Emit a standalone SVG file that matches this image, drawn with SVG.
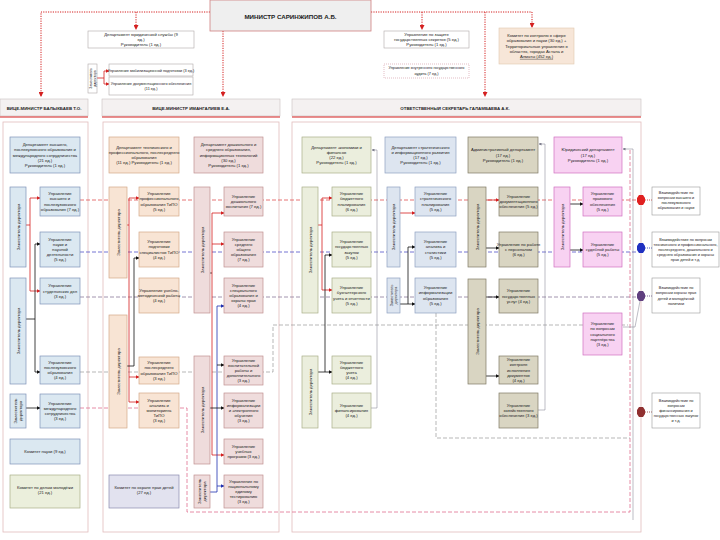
<svg xmlns="http://www.w3.org/2000/svg" width="720" height="540" viewBox="0 0 720 540">
<style>
text{font-family:"Liberation Sans",Arial,sans-serif;font-size:4.2px;text-anchor:middle;fill:#222}
.hd{font-size:4.4px;font-weight:bold}
.mn{font-size:6.2px;font-weight:bold}
.sm{font-size:3.8px}
.hdr{fill:#f4f1f1;stroke:#c8c0c0;stroke-width:0.6}
.frame{fill:none;stroke:#e2bcbc;stroke-width:0.8}
.wht{fill:#fff;stroke:#b0a8a8;stroke-width:0.6}
.b1{fill:#dbe8f1;stroke:#7f93b8;stroke-width:0.7}
.pe{fill:#f8e4d4;stroke:#d4a888;stroke-width:0.7}
.ro{fill:#efdcdc;stroke:#c09090;stroke-width:0.7}
.ol{fill:#ebeedd;stroke:#a8ae88;stroke-width:0.7}
.bl{fill:#dde5f0;stroke:#8ea0c0;stroke-width:0.7}
.kh{fill:#d9d5c2;stroke:#7f7a64;stroke-width:0.7}
.pk{fill:#f8d2f2;stroke:#d070c0;stroke-width:0.7}
.gr{fill:#ebefdc;stroke:#a8b088;stroke-width:0.7}
.lv{fill:#e2e2ef;stroke:#8a8ab0;stroke-width:0.7}
.note{fill:#fff;stroke:#999;stroke-width:0.6}
.rd{fill:none;stroke:#d42020;stroke-width:1;stroke-dasharray:1.2 1.2}
.sr{fill:none;stroke:#d42020;stroke-width:0.8}
.sk{fill:none;stroke:#111;stroke-width:0.8}
.sb{fill:none;stroke:#2030b0;stroke-width:0.8}
.sg{fill:none;stroke:#7a7a8a;stroke-width:0.5}
.dr{fill:none;stroke:#e05050;stroke-width:0.8;stroke-dasharray:4 2}
.db{fill:none;stroke:#5050c8;stroke-width:0.8;stroke-dasharray:4 2}
.dp{fill:none;stroke:#8a7a9a;stroke-width:0.8;stroke-dasharray:4 2}
.dg{fill:none;stroke:#9a9a9a;stroke-width:0.7;stroke-dasharray:4 2}
.dk{fill:none;stroke:#e07090;stroke-width:0.8;stroke-dasharray:4 2}
.dt{fill:none;stroke-width:0.8;stroke-dasharray:1 1}
</style>
<defs>
<marker id="ar" markerWidth="5" markerHeight="5" refX="4" refY="2.5" orient="auto" markerUnits="userSpaceOnUse"><path d="M0,0 L5,2.5 L0,5 z" fill="#d42020"/></marker>
<marker id="ak" markerWidth="4" markerHeight="4" refX="3.5" refY="2" orient="auto" markerUnits="userSpaceOnUse"><path d="M0,0 L4,2 L0,4 z" fill="#111"/></marker>
<marker id="arr" markerWidth="4" markerHeight="4" refX="3.5" refY="2" orient="auto" markerUnits="userSpaceOnUse"><path d="M0,0 L4,2 L0,4 z" fill="#d42020"/></marker>
<marker id="ab" markerWidth="4" markerHeight="4" refX="3.5" refY="2" orient="auto" markerUnits="userSpaceOnUse"><path d="M0,0 L4,2 L0,4 z" fill="#2030b0"/></marker>
<marker id="ag" markerWidth="3" markerHeight="3" refX="2.5" refY="1.5" orient="auto" markerUnits="userSpaceOnUse"><path d="M0,0 L3,1.5 L0,3 z" fill="#7a7a8a"/></marker>
</defs>

<!-- column frames and headers -->
<g id="col1">
<rect class="frame" x="3" y="122" width="85" height="410"/>
<rect class="hdr" x="0" y="99" width="88" height="17"/>
<line x1="0" y1="117" x2="88" y2="117" stroke="#d42020" stroke-width="1"/>
<text class="hd" x="44" y="109.5">ВИЦЕ-МИНИСТР БАЛЫКБАЕВ Т.О.</text>
</g>
<g id="col2">
<rect class="frame" x="103" y="122" width="176" height="410"/>
<rect class="hdr" x="102" y="99" width="178" height="17"/>
<line x1="102" y1="117" x2="280" y2="117" stroke="#d42020" stroke-width="1"/>
<text class="hd" x="191" y="109.5">ВИЦЕ-МИНИСТР ИМАНГАЛИЕВ Е.А.</text>
</g>
<g id="col3">
<rect class="frame" x="292" y="122" width="349" height="410"/>
<rect class="hdr" x="292" y="99" width="349" height="17"/>
<line x1="292" y1="117" x2="641" y2="117" stroke="#d42020" stroke-width="1"/>
<text class="hd" x="455" y="109.5">ОТВЕТСТВЕННЫЙ СЕКРЕТАРЬ ГАЛАМБАЕВА А.К.</text>
</g>

<!-- connectors -->
<g id="connectors">
<path class="rd" d="M210,12 H41 V96" marker-end="url(#ar)"/>
<path class="rd" d="M136,12 V29" marker-end="url(#ar)"/>
<path class="rd" d="M223,31 V96" marker-end="url(#ar)"/>
<path class="rd" d="M371,12 H532 V27" marker-end="url(#ar)"/>
<path class="rd" d="M422,12 V29" marker-end="url(#ar)"/>
<path class="rd" d="M485,12 V96" marker-end="url(#ar)"/>
<path class="sr" d="M97,78 H104 M104,71 V84"/>
<path class="sr" d="M104,71 H109" marker-end="url(#arr)"/>
<path class="sr" d="M104,84 H109" marker-end="url(#arr)"/>

<path class="dr" d="M80,200 H637"/>
<path class="db" d="M80,252 H637"/>
<path class="dp" d="M80,297 H637"/>
<path class="dg" d="M80,372 H273 V325 H628"/>
<path class="dk" d="M80,408 H139 M180,408 H187 V512 H630 V150"/>
<path class="dg" d="M436,313 V438 H630"/>

<path class="sr" d="M26,225 H30 M30,198 V291"/>
<path class="sr" d="M30,198 H40" marker-end="url(#arr)"/>
<path class="sr" d="M30,291 H40" marker-end="url(#arr)"/>
<path class="sk" d="M26,319 H35 M35,244 V372"/>
<path class="sk" d="M35,244 H40" marker-end="url(#ak)"/>
<path class="sk" d="M35,372 H40" marker-end="url(#ak)"/>
<path class="sk" d="M26,408 H40" marker-end="url(#ak)"/>

<path class="sr" d="M127,225 H129 M129,198 V402"/>
<path class="sr" d="M129,198 H139" marker-end="url(#arr)"/>
<path class="sr" d="M129,377 H139" marker-end="url(#arr)"/>
<path class="sr" d="M129,402 H139" marker-end="url(#arr)"/>
<path class="sk" d="M127,366 H134 V258 H139" marker-end="url(#ak)"/>

<path class="sk" d="M210,273 H212"/>
<path class="sr" d="M212,213 V455"/>
<path class="sr" d="M212,213 H224" marker-end="url(#arr)"/>
<path class="sr" d="M212,244 H224" marker-end="url(#arr)"/>
<path class="sr" d="M212,455 H224" marker-end="url(#arr)"/>
<path class="sb" d="M210,492 H217 V306"/>
<path class="sb" d="M217,306 H224" marker-end="url(#ab)"/>
<path class="sk" d="M217,365 H224" marker-end="url(#ak)"/>
<path class="sb" d="M217,486 H224" marker-end="url(#ab)"/>
<path class="sk" d="M210,408 H224" marker-end="url(#ak)"/>

<path class="sr" d="M318,225 H322 M322,198 V290"/>
<path class="sr" d="M322,198 H332" marker-end="url(#arr)"/>
<path class="sr" d="M322,290 H332" marker-end="url(#arr)"/>
<path class="sk" d="M318,372 H332" marker-end="url(#ak)"/>
<path class="sk" d="M325,372 V255 H332" marker-end="url(#ak)"/>
<path class="sg" d="M371,408 H377 V150 H372" marker-end="url(#ag)"/>

<path class="sr" d="M400,213 H415" marker-end="url(#arr)"/>
<path class="sk" d="M400,304 H408 M408,247 V304"/>
<path class="sk" d="M408,247 H415" marker-end="url(#ak)"/>
<path class="sk" d="M408,304 H415" marker-end="url(#ak)"/>

<path class="sr" d="M486,200 H499" marker-end="url(#arr)"/>
<path class="sk" d="M486,248 H499" marker-end="url(#ak)"/>
<path class="sk" d="M486,297 H499" marker-end="url(#ak)"/>
<path class="sk" d="M486,376 H499" marker-end="url(#ak)"/>
<path class="sg" d="M538,410 H545 V144 H539" marker-end="url(#ag)"/>

<path class="sk" d="M570,204 H583" marker-end="url(#ak)"/>
<path class="sk" d="M570,250 H583" marker-end="url(#ak)"/>
<path class="sg" d="M633,520 V149 H623" marker-end="url(#ag)"/>
<path class="sg" d="M623,327 H635 L640,301"/>

<path class="dt" stroke="#d42020" d="M645,200 H652"/>
<path class="dt" stroke="#2030b0" d="M645,248 H652"/>
<path class="dt" stroke="#604080" d="M645,296 H652"/>
<path class="dt" stroke="#903030" d="M645,412 H652"/>
</g>

<!-- octagons -->
<g id="markers-oct">
<polygon points="639,195 643,195 645,198 645,202 643,205 639,205 637,202 637,198" fill="#e02020"/>
<polygon points="639,243 643,243 645,246 645,250 643,253 639,253 637,250 637,246" fill="#2030c0"/>
<polygon points="639,291 643,291 645,294 645,298 643,301 639,301 637,298 637,294" fill="#604080"/>
<polygon points="639,407 643,407 645,410 645,414 643,417 639,417 637,414 637,410" fill="#903030"/>
</g>

<!-- top -->
<g id="minister">
<rect x="210" y="0" width="161" height="31" fill="#efefef" stroke="#d08080" stroke-width="0.8"/>
<text class="mn" x="290.5" y="19">МИНИСТР САРИНЖИПОВ А.Б.</text>
</g>
<g id="dep-legal-top">
<rect class="wht" x="88" y="31" width="106" height="17"/>
<text x="141" y="35.8">Департамент юридической службы (9</text>
<text x="141" y="41">ед.)</text>
<text x="141" y="46.2">Руководитель (1 ед.)</text>
</g>
<g id="deputy-top">
<rect class="wht" x="88" y="64" width="9" height="29"/>
<text transform="translate(92.5,78.5) rotate(-90)" x="0" y="-0.8" style="font-size:3.4px">Заместитель</text>
<text transform="translate(92.5,78.5) rotate(-90)" x="0" y="3" style="font-size:3.4px">директора</text>
</g>
<g id="top-a">
<rect class="wht" x="109" y="64" width="84" height="12"/>
<text class="sm" x="151" y="71.5">Управление мобилизационной подготовки (3 ед.)</text>
</g>
<g id="top-b">
<rect class="wht" x="109" y="77" width="84" height="18"/>
<text class="sm" x="151" y="84.5">Управление документационного обеспечения</text>
<text class="sm" x="151" y="89.7">(11 ед.)</text>
</g>
<g id="top-secret">
<rect class="wht" x="384" y="31" width="85" height="17"/>
<text x="426.5" y="35.8">Управление по защите</text>
<text x="426.5" y="41">государственных секретов (5 ед.)</text>
<text x="426.5" y="46.2">Руководитель (1 ед.)</text>
</g>
<g id="top-audit">
<rect x="384" y="64" width="85" height="14" fill="#fff" stroke="#d090a0" stroke-width="0.6" stroke-dasharray="1 1"/>
<text class="sm" x="426.5" y="69.3">Управление внутреннего государственного</text>
<text class="sm" x="426.5" y="74.5">аудита (7 ед.)</text>
</g>
<g id="top-committee">
<rect x="499" y="28" width="75" height="36" fill="#f7e6d8" stroke="#e0c8b0" stroke-width="0.6"/>
<text x="536.5" y="37.1">Комитет по контролю в сфере</text>
<text x="536.5" y="42.3">образования и науки (30 ед.) +</text>
<text x="536.5" y="47.5">Территориальные управления в</text>
<text x="536.5" y="52.7">областях, городах Астана и</text>
<text x="536.5" y="57.9" text-decoration="underline">Алматы (452 ед.)</text>
</g>

<!-- column 1 -->
<g id="c1-dept">
<rect class="b1" x="10" y="137" width="70" height="36"/>
<text x="45" y="146.1">Департамент высшего,</text>
<text x="45" y="151.3">послевузовского образования и</text>
<text x="45" y="156.5">международного сотрудничества</text>
<text x="45" y="161.7">(21 ед.)</text>
<text x="45" y="166.9">Руководитель (1 ед.)</text>
</g>
<g id="c1-v1"><rect class="b1" x="10" y="187" width="16" height="80"/><text transform="translate(18,227) rotate(-90)" y="1.5">Заместитель директора</text></g>
<g id="c1-b1"><rect class="b1" x="40" y="187" width="40" height="29"/>
<text x="60" y="195.2">Управление</text><text x="60" y="200.4">высшего и</text><text x="60" y="205.6">послевузовского</text><text x="60" y="210.8">образования (7 ед.)</text></g>
<g id="c1-b2"><rect class="b1" x="40" y="232" width="40" height="35"/>
<text x="60" y="240.6">Управление</text><text x="60" y="245.8">науки и</text><text x="60" y="251">научной</text><text x="60" y="256.2">деятельности</text><text x="60" y="261.4">(5 ед.)</text></g>
<g id="c1-b3"><rect class="b1" x="40" y="278" width="40" height="26"/>
<text x="60" y="287.3">Управление</text><text x="60" y="292.5">студенческих дел</text><text x="60" y="297.7">(3 ед.)</text></g>
<g id="c1-v2"><rect class="b1" x="10" y="278" width="16" height="106"/><text transform="translate(18,331) rotate(-90)" y="1.5">Заместитель директора</text></g>
<g id="c1-b4"><rect class="b1" x="40" y="356" width="40" height="28"/>
<text x="60" y="363.7">Управление</text><text x="60" y="368.9">послевузовского</text><text x="60" y="374.1">образования</text><text x="60" y="379.3">(4 ед.)</text></g>
<g id="c1-v3"><rect class="b1" x="10" y="394" width="16" height="34"/>
<text transform="translate(18,411) rotate(-90)" y="-0.8">Заместитель</text><text transform="translate(18,411) rotate(-90)" y="3.6">директора</text></g>
<g id="c1-b5"><rect class="b1" x="40" y="394" width="40" height="34"/>
<text x="60" y="404.7">Управление</text><text x="60" y="409.9">международного</text><text x="60" y="415.1">сотрудничества</text><text x="60" y="420.3">(3 ед.)</text></g>
<g id="c1-science"><rect class="b1" x="10" y="439" width="70" height="25"/><text x="45" y="453">Комитет науки (9 ед.)</text></g>
<g id="c1-youth"><rect class="gr" x="10" y="475" width="70" height="33"/>
<text x="45" y="489">Комитет по делам молодёжи</text><text x="45" y="494.2">(21 ед.)</text></g>

<!-- column 2 -->
<g id="c2-dept-a"><rect class="pe" x="109" y="137" width="70" height="36"/>
<text x="144" y="148.7">Департамент технического и</text><text x="144" y="153.9">профессионального, послесреднего</text><text x="144" y="159.1">образования</text><text x="144" y="164.3">(11 ед.) Руководитель (1 ед.)</text></g>
<g id="c2-dept-b"><rect class="ro" x="194" y="137" width="69" height="36"/>
<text x="228.5" y="146.1">Департамент дошкольного и</text><text x="228.5" y="151.3">среднего образования,</text><text x="228.5" y="156.5">информационных технологий</text><text x="228.5" y="161.7">(30 ед.)</text><text x="228.5" y="166.9">Руководитель (1 ед.)</text></g>
<g id="c2-vp1"><rect class="pe" x="109" y="187" width="18" height="91"/><text transform="translate(118,232.5) rotate(-90)" y="1.5">Заместитель директора</text></g>
<g id="c2-p1"><rect class="pe" x="139" y="187" width="40" height="29"/>
<text x="159" y="195.2">Управление</text><text x="159" y="200.4">профессионального</text><text x="159" y="205.6">образования ТиПО</text><text x="159" y="210.8">(5 ед.)</text></g>
<g id="c2-p2"><rect class="pe" x="139" y="232" width="40" height="35"/>
<text x="159" y="243.2">Управление</text><text x="159" y="248.4">подготовки</text><text x="159" y="253.6">специалистов ТиПО</text><text x="159" y="258.8">(4 ед.)</text></g>
<g id="c2-p3"><rect class="pe" x="139" y="278" width="40" height="35"/>
<text x="159" y="291.8">Управление учебно-</text><text x="159" y="297">методической работы</text><text x="159" y="302.2">(4 ед.)</text></g>
<g id="c2-vp2"><rect class="pe" x="109" y="315" width="18" height="113"/><text transform="translate(118,371.5) rotate(-90)" y="1.5">Заместитель директора</text></g>
<g id="c2-p4"><rect class="pe" x="139" y="357" width="40" height="27"/>
<text x="159" y="364.2">Управление</text><text x="159" y="369.4">послесреднего</text><text x="159" y="374.6">образования ТиПО</text><text x="159" y="379.8">(3 ед.)</text></g>
<g id="c2-p5"><rect class="pe" x="139" y="393" width="40" height="35"/>
<text x="159" y="401.6">Управление</text><text x="159" y="406.8">анализа и</text><text x="159" y="412">мониторинга</text><text x="159" y="417.2">ТиПО</text><text x="159" y="422.4">(3 ед.)</text></g>
<g id="c2-vr1"><rect class="ro" x="194" y="187" width="16" height="126"/><text transform="translate(202,250) rotate(-90)" y="1.5">Заместитель директора</text></g>
<g id="c2-r1"><rect class="ro" x="224" y="187" width="39" height="29"/>
<text x="243.5" y="197.8">Управление</text><text x="243.5" y="203">дошкольного</text><text x="243.5" y="208.2">воспитания (7 ед.)</text></g>
<g id="c2-r2"><rect class="ro" x="224" y="232" width="39" height="35"/>
<text x="243.5" y="240.6">Управление</text><text x="243.5" y="245.8">среднего</text><text x="243.5" y="251">общего</text><text x="243.5" y="256.2">образования</text><text x="243.5" y="261.4">(7 ед.)</text></g>
<g id="c2-r3"><rect class="ro" x="224" y="278" width="39" height="35"/>
<text x="243.5" y="286.6">Управление</text><text x="243.5" y="291.8">специального</text><text x="243.5" y="297">образования и</text><text x="243.5" y="302.2">охраны прав</text><text x="243.5" y="307.4">(4 ед.)</text></g>
<g id="c2-vr2"><rect class="ro" x="194" y="356" width="16" height="108"/><text transform="translate(202,410) rotate(-90)" y="1.5">Заместитель директора</text></g>
<g id="c2-r4"><rect class="ro" x="224" y="356" width="39" height="29"/>
<text x="243.5" y="361.6">Управление</text><text x="243.5" y="366.8">воспитательной</text><text x="243.5" y="372">работы и</text><text x="243.5" y="377.2">дополнительного</text><text x="243.5" y="382.4">(3 ед.)</text></g>
<g id="c2-r5"><rect class="ro" x="224" y="393" width="39" height="35"/>
<text x="243.5" y="401.6">Управление</text><text x="243.5" y="406.8">информатизации</text><text x="243.5" y="412">и электронного</text><text x="243.5" y="417.2">обучения</text><text x="243.5" y="422.4">(3 ед.)</text></g>
<g id="c2-r6"><rect class="ro" x="224" y="439" width="39" height="25"/>
<text x="243.5" y="447.8">Управление</text><text x="243.5" y="453">учебных</text><text x="243.5" y="458.2">программ (3 ед.)</text></g>
<g id="c2-vr3"><rect class="ro" x="194" y="475" width="16" height="33"/>
<text transform="translate(202,491.5) rotate(-90)" y="-0.8">Заместитель</text><text transform="translate(202,491.5) rotate(-90)" y="3.6">директора</text></g>
<g id="c2-r7"><rect class="ro" x="224" y="475" width="39" height="33"/>
<text x="243.5" y="482.6">Управление по</text><text x="243.5" y="487.8">национальному</text><text x="243.5" y="493">единому</text><text x="243.5" y="498.2">тестированию</text><text x="243.5" y="503.4">(3 ед.)</text></g>
<g id="c2-children"><rect class="lv" x="109" y="475" width="70" height="33"/>
<text x="144" y="489">Комитет по охране прав детей</text><text x="144" y="494.2">(27 ед.)</text></g>

<!-- column 3 -->
<g id="c3-dept-fin"><rect class="ol" x="302" y="137" width="69" height="36"/>
<text x="336.5" y="148.7">Департамент экономики и</text><text x="336.5" y="153.9">финансов</text><text x="336.5" y="159.1">(22 ед.)</text><text x="336.5" y="164.3">Руководитель (1 ед.)</text></g>
<g id="c3-dept-str"><rect class="bl" x="385" y="137" width="71" height="36"/>
<text x="420.5" y="148.7">Департамент стратегического</text><text x="420.5" y="153.9">и информационного развития</text><text x="420.5" y="159.1">(17 ед.)</text><text x="420.5" y="164.3">Руководитель (1 ед.)</text></g>
<g id="c3-vo1"><rect class="ol" x="302" y="187" width="16" height="126"/><text transform="translate(310,250) rotate(-90)" y="1.5">Заместитель директора</text></g>
<g id="c3-o1"><rect class="ol" x="332" y="187" width="39" height="29"/>
<text x="351.5" y="195.2">Управление</text><text x="351.5" y="200.4">бюджетного</text><text x="351.5" y="205.6">планирования</text><text x="351.5" y="210.8">(6 ед.)</text></g>
<g id="c3-o2"><rect class="ol" x="332" y="232" width="39" height="35"/>
<text x="351.5" y="243.2">Управление</text><text x="351.5" y="248.4">государственных</text><text x="351.5" y="253.6">закупок</text><text x="351.5" y="258.8">(5 ед.)</text></g>
<g id="c3-o3"><rect class="ol" x="332" y="278" width="39" height="35"/>
<text x="351.5" y="289.2">Управление</text><text x="351.5" y="294.4">бухгалтерского</text><text x="351.5" y="299.6">учета и отчетности</text><text x="351.5" y="304.8">(5 ед.)</text></g>
<g id="c3-vo2"><rect class="ol" x="302" y="356" width="16" height="72"/><text transform="translate(310,392) rotate(-90)" y="1.5">Заместитель директора</text></g>
<g id="c3-o4"><rect class="ol" x="332" y="356" width="39" height="28"/>
<text x="351.5" y="363.7">Управление</text><text x="351.5" y="368.9">бюджетного</text><text x="351.5" y="374.1">учета</text><text x="351.5" y="379.3">(4 ед.)</text></g>
<g id="c3-o5"><rect class="ol" x="332" y="393" width="39" height="35"/>
<text x="351.5" y="406.8">Управление</text><text x="351.5" y="412">финансирования</text><text x="351.5" y="417.2">(4 ед.)</text></g>
<g id="c3-vc1"><rect class="bl" x="387" y="187" width="13" height="80"/><text transform="translate(393.5,227) rotate(-90)" y="1.5">Заместитель директора</text></g>
<g id="c3-vc2"><rect class="bl" x="387" y="278" width="13" height="35"/>
<text transform="translate(393.5,295.5) rotate(-90)" y="-0.8" style="font-size:3.6px">Заместитель</text><text transform="translate(393.5,295.5) rotate(-90)" y="3.2" style="font-size:3.6px">директора</text></g>
<g id="c3-c1"><rect class="bl" x="415" y="187" width="41" height="29"/>
<text x="435.5" y="195.2">Управление</text><text x="435.5" y="200.4">стратегического</text><text x="435.5" y="205.6">планирования</text><text x="435.5" y="210.8">(5 ед.)</text></g>
<g id="c3-c2"><rect class="bl" x="415" y="232" width="41" height="35"/>
<text x="435.5" y="243.2">Управление</text><text x="435.5" y="248.4">анализа и</text><text x="435.5" y="253.6">статистики</text><text x="435.5" y="258.8">(5 ед.)</text></g>
<g id="c3-c3"><rect class="bl" x="415" y="278" width="41" height="35"/>
<text x="435.5" y="289.2">Управление</text><text x="435.5" y="294.4">информатизации</text><text x="435.5" y="299.6">образования</text><text x="435.5" y="304.8">(5 ед.)</text></g>
<g id="c3-dept-adm"><rect class="kh" x="468" y="137" width="70" height="36"/>
<text x="503" y="151.3">Административный департамент</text><text x="503" y="156.5">(17 ед.)</text><text x="503" y="161.7">Руководитель (1 ед.)</text></g>
<g id="c3-vk1"><rect class="kh" x="468" y="187" width="18" height="80"/><text transform="translate(477,227) rotate(-90)" y="1.5">Заместитель директора</text></g>
<g id="c3-k1"><rect class="kh" x="499" y="187" width="39" height="29"/>
<text x="518.5" y="197.8">Управление</text><text x="518.5" y="203">документационного</text><text x="518.5" y="208.2">обеспечения (5 ед.)</text></g>
<g id="c3-k2"><rect class="kh" x="499" y="232" width="39" height="35"/>
<text x="518.5" y="246">Управление по работе</text><text x="518.5" y="251.2">с персоналом</text><text x="518.5" y="256.4">(6 ед.)</text></g>
<g id="c3-vk2"><rect class="kh" x="468" y="279" width="18" height="105"/><text transform="translate(477,331.5) rotate(-90)" y="1.5">Заместитель директора</text></g>
<g id="c3-k3"><rect class="kh" x="499" y="279" width="39" height="34"/>
<text x="518.5" y="292.3">Управление</text><text x="518.5" y="297.5">государственных</text><text x="518.5" y="302.7">услуг (4 ед.)</text></g>
<g id="c3-k4"><rect class="kh" x="499" y="356" width="39" height="28"/>
<text x="518.5" y="361.1">Управление</text><text x="518.5" y="366.3">контроля</text><text x="518.5" y="371.5">исполнения</text><text x="518.5" y="376.7">документов</text><text x="518.5" y="381.9">(4 ед.)</text></g>
<g id="c3-k5"><rect class="kh" x="499" y="393" width="39" height="35"/>
<text x="518.5" y="406.8">Управление</text><text x="518.5" y="412">хозяйственного</text><text x="518.5" y="417.2">обеспечения (3 ед.)</text></g>
<g id="c3-dept-law"><rect class="pk" x="554" y="137" width="68" height="36"/>
<text x="588" y="151.3">Юридический департамент</text><text x="588" y="156.5">(17 ед.)</text><text x="588" y="161.7">Руководитель (1 ед.)</text></g>
<g id="c3-vm"><rect class="pk" x="554" y="187" width="16" height="80"/><text transform="translate(562,227) rotate(-90)" y="1.5">Заместитель директора</text></g>
<g id="c3-m1"><rect class="pk" x="583" y="187" width="39" height="29"/>
<text x="602.5" y="195.2">Управление</text><text x="602.5" y="200.4">правового</text><text x="602.5" y="205.6">обеспечения</text><text x="602.5" y="210.8">(5 ед.)</text></g>
<g id="c3-m2"><rect class="pk" x="583" y="232" width="39" height="35"/>
<text x="602.5" y="246">Управление</text><text x="602.5" y="251.2">судебной работы</text><text x="602.5" y="256.4">(5 ед.)</text></g>
<g id="c3-m3"><rect class="pk" x="583" y="313" width="39" height="42"/>
<text x="602.5" y="325.1">Управление</text><text x="602.5" y="330.3">по вопросам</text><text x="602.5" y="335.5">социального</text><text x="602.5" y="340.7">партнёрства</text><text x="602.5" y="345.9">(3 ед.)</text></g>

<!-- notes -->
<g id="note1"><rect class="note" x="652" y="187" width="48" height="28"/>
<text class="sm" x="676" y="193.5">Взаимодействие по</text><text class="sm" x="676" y="198.7">вопросам высшего и</text><text class="sm" x="676" y="203.9">послевузовского</text><text class="sm" x="676" y="209.1">образования и науки</text></g>
<g id="note2"><rect class="note" x="652" y="232" width="67" height="35"/>
<text class="sm" x="685.5" y="240.6">Взаимодействие по вопросам</text><text class="sm" x="685.5" y="245.8">технического и профессионального,</text><text class="sm" x="685.5" y="251">послесреднего, дошкольного и</text><text class="sm" x="685.5" y="256.2">среднего образования и охраны</text><text class="sm" x="685.5" y="261.4">прав детей и т.д.</text></g>
<g id="note3"><rect class="note" x="652" y="278" width="48" height="35"/>
<text class="sm" x="676" y="289.2">Взаимодействие по</text><text class="sm" x="676" y="294.4">вопросам охраны прав</text><text class="sm" x="676" y="299.6">детей и молодёжной</text><text class="sm" x="676" y="304.8">политики</text></g>
<g id="note4"><rect class="note" x="652" y="393" width="48" height="35"/>
<text class="sm" x="676" y="401.6">Взаимодействие по</text><text class="sm" x="676" y="406.8">вопросам</text><text class="sm" x="676" y="412">финансирования и</text><text class="sm" x="676" y="417.2">государственных закупок</text><text class="sm" x="676" y="422.4">и т.д.</text></g>
</svg>
